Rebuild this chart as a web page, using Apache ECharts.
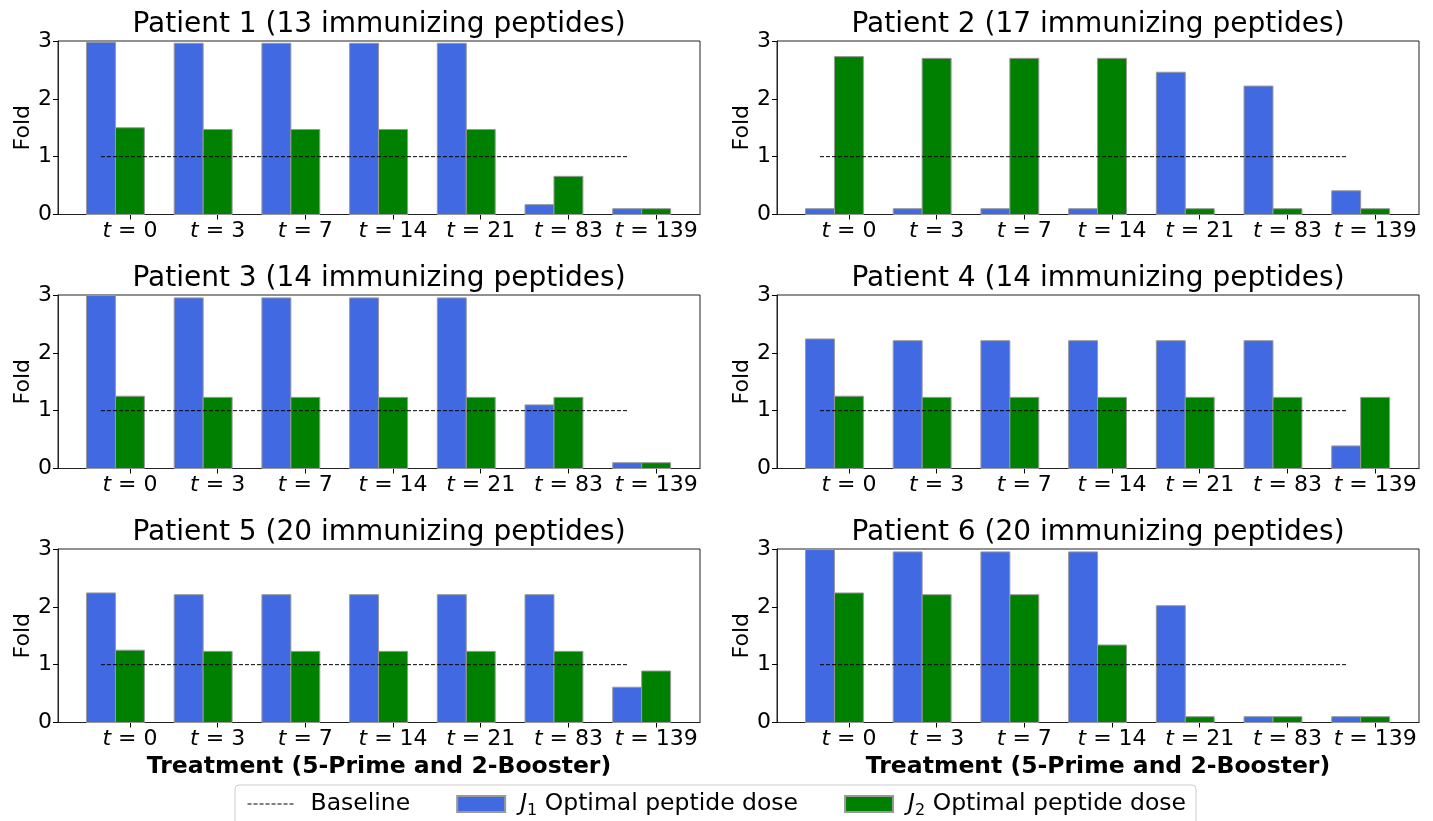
<!DOCTYPE html>
<html>
<head>
<meta charset="utf-8">
<title>Optimal peptide dose per patient</title>
<script src="https://cdn.jsdelivr.net/npm/echarts@6/dist/echarts.min.js"></script>
<style>
  html, body { margin: 0; padding: 0; background: #fff; }
  #chart { width: 1433px; height: 821px; }
</style>
</head>
<body>
<div id="chart"></div>
<script>
// Time points of the treatment (days)
const timePoints = ['0', '3', '7', '14', '21', '83', '139'];

// Number of immunizing peptides per patient
const peptideCounts = [13, 17, 14, 14, 20, 20];

// Fold values, J1 optimal peptide dose
const j1Patient1 = [2.98, 2.96, 2.96, 2.96, 2.96, 0.17, 0.10];
const j1Patient2 = [0.10, 0.10, 0.10, 0.10, 2.46, 2.22, 0.41];
const j1Patient3 = [2.99, 2.95, 2.95, 2.95, 2.95, 1.10, 0.10];
const j1Patient4 = [2.24, 2.21, 2.21, 2.21, 2.21, 2.21, 0.39];
const j1Patient5 = [2.24, 2.21, 2.21, 2.21, 2.21, 2.21, 0.61];
const j1Patient6 = [2.99, 2.95, 2.95, 2.95, 2.02, 0.10, 0.10];

// Fold values, J2 optimal peptide dose
const j2Patient1 = [1.50, 1.47, 1.47, 1.47, 1.47, 0.66, 0.10];
const j2Patient2 = [2.73, 2.70, 2.70, 2.70, 0.10, 0.10, 0.10];
const j2Patient3 = [1.25, 1.23, 1.23, 1.23, 1.23, 1.23, 0.10];
const j2Patient4 = [1.25, 1.23, 1.23, 1.23, 1.23, 1.23, 1.23];
const j2Patient5 = [1.25, 1.23, 1.23, 1.23, 1.23, 1.23, 0.89];
const j2Patient6 = [2.24, 2.21, 2.21, 1.34, 0.10, 0.10, 0.10];

// Baseline level and the x-span it covers (first to last J1 bar centre)
const baselineLevel = 1;
const baselineSpan = [-0.33, 5.67];

// Y-axis tick values
const foldTicks = [0, 1, 2, 3];

const j1Series = [j1Patient1, j1Patient2, j1Patient3, j1Patient4, j1Patient5, j1Patient6];
const j2Series = [j2Patient1, j2Patient2, j2Patient3, j2Patient4, j2Patient5, j2Patient6];

const NAME_BASE = 'Baseline';
const NAME_J1 = 'J1 Optimal peptide dose';
const NAME_J2 = 'J2 Optimal peptide dose';

const FONT = 'DejaVu Sans';
const BAR_W = 0.33;             // bar width in x units
const X_MIN = -0.82, X_MAX = 6.5;
const BLUE = '#4169E1', GREEN = '#008000', EDGE = '#999999';

// panel layout (px)
const colLeft = [58, 777];
const rowTop = [41, 295, 549];
const panelW = 642, panelH = 173.5;

const chart = echarts.init(document.getElementById('chart'), null, { renderer: 'canvas' });

function barRenderer(offset, fill) {
  return function (params, api) {
    const x = api.value(0);
    const v = api.value(1);
    const a = api.coord([x + offset - BAR_W / 2, 0]);
    const b = api.coord([x + offset + BAR_W / 2, v]);
    return {
      type: 'rect',
      shape: { x: a[0], y: b[1], width: b[0] - a[0], height: a[1] - b[1] },
      style: { fill: fill, stroke: EDGE, lineWidth: 1 }
    };
  };
}

const grids = [], xAxes = [], yAxes = [], titles = [], series = [];
const tickPos = timePoints.map((_, i) => i);

for (let k = 0; k < 6; k++) {
  const row = Math.floor(k / 2), col = k % 2;
  const left = colLeft[col], top = rowTop[row];
  grids.push({
    left: left, top: top, width: panelW, height: panelH,
    show: true, borderColor: '#222', borderWidth: 1, backgroundColor: 'transparent'
  });
  titles.push({
    text: 'Patient ' + (k + 1) + ' (' + peptideCounts[k] + ' immunizing peptides)',
    left: left + panelW / 2, top: top - 30, textAlign: 'center',
    padding: 0,
    textStyle: { fontFamily: FONT, fontSize: 28, fontWeight: 'normal', color: '#000' }
  });
  xAxes.push({
    type: 'value', gridIndex: k, min: X_MIN, max: X_MAX,
    axisLine: { show: true, onZero: false, lineStyle: { color: '#222', width: 1 } },
    splitLine: { show: false },
    axisTick: { show: true, customValues: tickPos, length: 5, inside: false, lineStyle: { color: '#000' } },
    axisLabel: {
      customValues: tickPos, margin: 6, color: '#000', fontFamily: FONT, fontSize: 22,
      formatter: function (v) { return '{it|t} = ' + timePoints[Math.round(v)]; },
      rich: { it: { fontStyle: 'italic', fontFamily: FONT, fontSize: 22, color: '#000' } }
    },
    name: row === 2 ? 'Treatment (5-Prime and 2-Booster)' : '',
    nameLocation: 'middle', nameGap: 32,
    nameTextStyle: { fontFamily: FONT, fontSize: 23.5, fontWeight: 'bold', color: '#000' }
  });
  yAxes.push({
    type: 'value', gridIndex: k, min: foldTicks[0], max: foldTicks[foldTicks.length - 1], interval: 1,
    axisLine: { show: true, onZero: false, lineStyle: { color: '#222', width: 1 } },
    splitLine: { show: false },
    axisTick: { show: true, length: 5, inside: false, lineStyle: { color: '#000' } },
    axisLabel: { margin: 6, color: '#000', fontFamily: FONT, fontSize: 22 },
    name: 'Fold', nameLocation: 'middle', nameRotate: 90, nameGap: 24,
    nameTextStyle: { fontFamily: FONT, fontSize: 22, color: '#000' }
  });
  series.push({
    name: NAME_J1, type: 'custom', xAxisIndex: k, yAxisIndex: k,
    renderItem: barRenderer(-BAR_W, BLUE),
    itemStyle: { color: BLUE, borderColor: EDGE, borderWidth: 1 },
    encode: { x: 0, y: 1 },
    data: j1Series[k].map((v, i) => [i, v]),
    z: 2
  });
  series.push({
    name: NAME_J2, type: 'custom', xAxisIndex: k, yAxisIndex: k,
    renderItem: barRenderer(0, GREEN),
    itemStyle: { color: GREEN, borderColor: EDGE, borderWidth: 1 },
    encode: { x: 0, y: 1 },
    data: j2Series[k].map((v, i) => [i, v]),
    z: 2
  });
  series.push({
    name: NAME_BASE, type: 'line', xAxisIndex: k, yAxisIndex: k,
    symbol: 'none', showSymbol: false, silent: true,
    lineStyle: { color: '#000', width: 1, type: [4, 2] },
    itemStyle: { color: '#000' },
    data: baselineSpan.map(x => [x, baselineLevel]),
    z: 5
  });
}

const option = {
  animation: false,
  backgroundColor: '#fff',
  textStyle: { fontFamily: FONT },
  title: titles,
  grid: grids,
  xAxis: xAxes,
  yAxis: yAxes,
  legend: {
    data: [
      {
        name: NAME_BASE,
        // dashed line only: hide the marker the line legend adds
        itemStyle: { color: 'rgba(0,0,0,0)', borderWidth: 0, opacity: 0 },
        lineStyle: { color: '#000', width: 1, type: [4, 2], opacity: 1 }
      },
      { name: NAME_J1, icon: 'rect' },
      { name: NAME_J2, icon: 'rect' }
    ],
    left: 'center', top: 785,
    orient: 'horizontal',
    itemWidth: 48, itemHeight: 16, itemGap: 46,
    padding: [7, 10, 10, 12],
    borderColor: '#cccccc', borderWidth: 1, borderRadius: 4,
    backgroundColor: '#fff',
    selectedMode: false,
    formatter: function (name) {
      if (name === NAME_BASE) return '{gap|}{n|Baseline}';
      const idx = name === NAME_J1 ? '1' : '2';
      return '{gap|}{it|J}{sub|' + idx + '}{n| Optimal peptide dose}';
    },
    textStyle: {
      fontFamily: FONT, fontSize: 23.5, color: '#000',
      rich: {
        gap: { width: 10 },
        n: { fontFamily: FONT, fontSize: 23.5, color: '#000', lineHeight: 30 },
        it: { fontFamily: FONT, fontSize: 23.5, fontStyle: 'italic', color: '#000', lineHeight: 30 },
        sub: { fontFamily: FONT, fontSize: 16, color: '#000', lineHeight: 16, verticalAlign: 'bottom' }
      }
    }
  },
  series: series
};

chart.setOption(option);
</script>
</body>
</html>
